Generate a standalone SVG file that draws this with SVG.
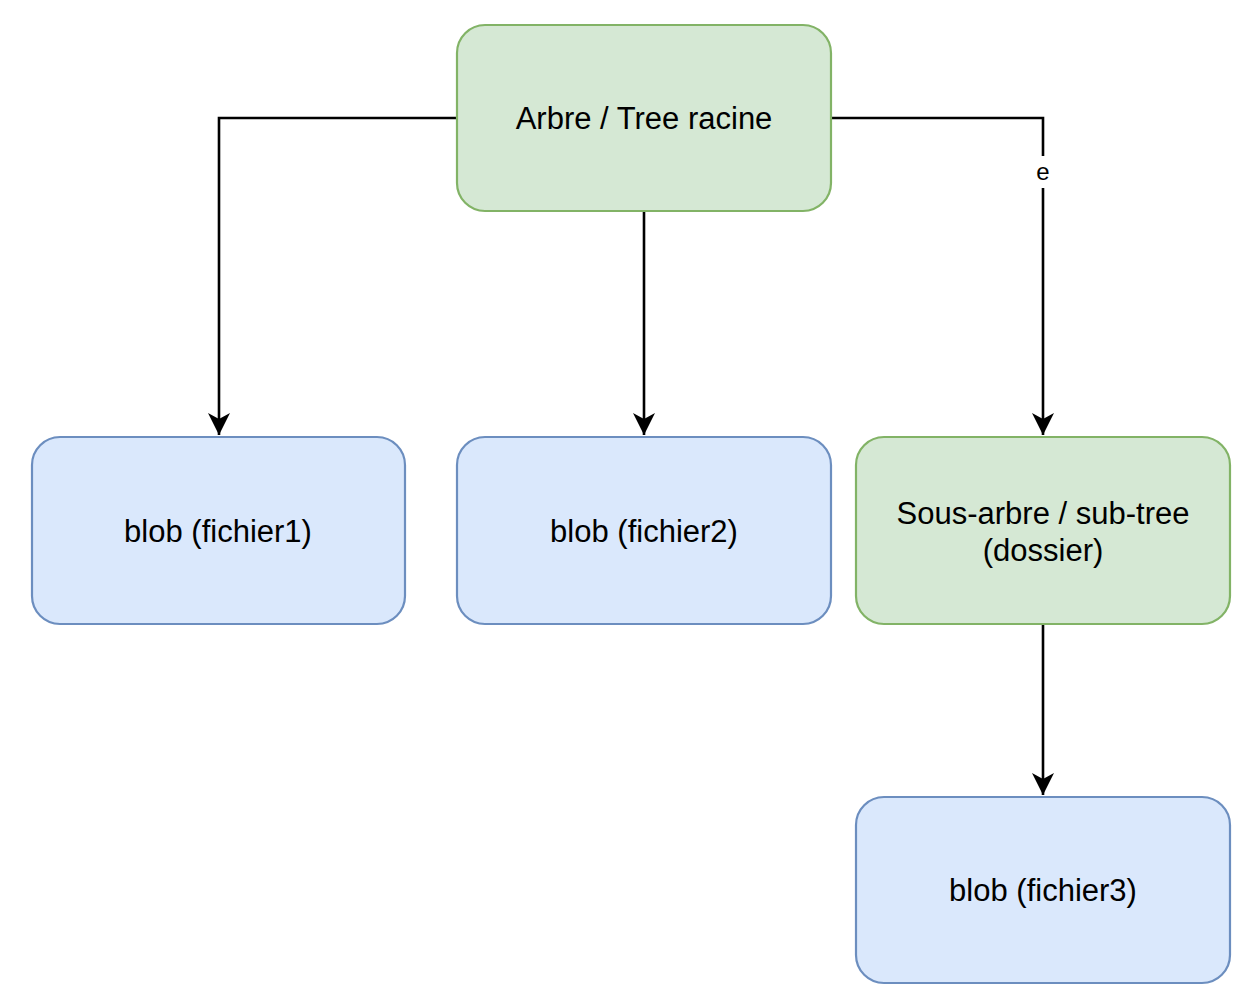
<svg xmlns="http://www.w3.org/2000/svg" width="1260" height="998" viewBox="0 0 1260 998">
<style>
.green{fill:#d5e8d4;stroke:#82b366;stroke-width:2.2}
.blue{fill:#dae8fc;stroke:#6c8ebf;stroke-width:2.2}
.lbl{font-family:"Liberation Sans",Arial,sans-serif;font-size:31px;fill:#000;text-anchor:middle}
.edge{fill:none;stroke:#000;stroke-width:2.6}
.elbl{font-family:"Liberation Sans",Arial,sans-serif;font-size:24px;fill:#000;text-anchor:middle}
</style>
<defs>
<marker id="arr" markerUnits="userSpaceOnUse" markerWidth="20" markerHeight="24" refX="10" refY="22" orient="auto-start-reverse" viewBox="0 0 20 24">
<path d="M0,0 L10,7 L20,0 L10,22 Z" fill="#000" transform="rotate(0)"/>
</marker>
<marker id="ah" markerUnits="userSpaceOnUse" markerWidth="22" markerHeight="24" refX="22" refY="11" orient="auto" viewBox="0 0 22 24">
<path d="M0,0 L22,11 L0,22 L6,11 Z" fill="#000"/>
</marker>
</defs>
<rect width="1260" height="998" fill="#fff"/>
<g id="edges">
<path class="edge" d="M457,118 H219 V435" marker-end="url(#ah)"/>
<path class="edge" d="M644,211 V435" marker-end="url(#ah)"/>
<path class="edge" d="M831,118 H1043 V435" marker-end="url(#ah)"/>
<path class="edge" d="M1043,624 V795" marker-end="url(#ah)"/>
<rect x="1032" y="156" width="22" height="32" fill="#fff"/>
<text class="elbl" x="1043" y="180">e</text>
</g>
<g id="root">
<rect class="green" x="457" y="25" width="374" height="186" rx="28"/>
<text class="lbl" x="644" y="129">Arbre / Tree racine</text>
</g>
<g id="blob1">
<rect class="blue" x="32" y="437" width="373" height="187" rx="28"/>
<text class="lbl" x="218" y="542">blob (fichier1)</text>
</g>
<g id="blob2">
<rect class="blue" x="457" y="437" width="374" height="187" rx="28"/>
<text class="lbl" x="644" y="542">blob (fichier2)</text>
</g>
<g id="subtree">
<rect class="green" x="856" y="437" width="374" height="187" rx="28"/>
<text class="lbl" x="1043" y="524">Sous-arbre / sub-tree</text>
<text class="lbl" x="1043" y="561">(dossier)</text>
</g>
<g id="blob3">
<rect class="blue" x="856" y="797" width="374" height="186" rx="28"/>
<text class="lbl" x="1043" y="901">blob (fichier3)</text>
</g>
</svg>
